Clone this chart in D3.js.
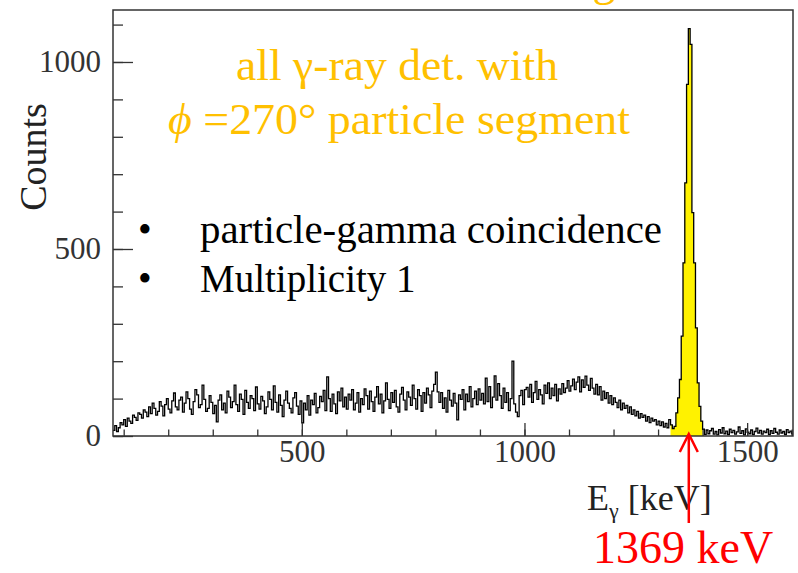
<!DOCTYPE html>
<html>
<head>
<meta charset="utf-8">
<script src="https://cdn.jsdelivr.net/npm/d3@7"></script>
<style>
  html, body { margin: 0; padding: 0; background: #fff; }
  svg { display: block; }
</style>
</head>
<body>
<script>
// ---- Spectrum data: 4 keV bins starting at 76 keV ----
const binStart = 76;
const binWidth = 4;

// Continuum below the line (76 - 1340 keV)
const continuumCounts = [
  15, 28, 12, 22, 36, 30, 44, 26, 48, 40, 34, 56, 50, 42, 62, 58,
  48, 70, 64, 52, 78, 60, 88, 74, 56, 66, 92, 80, 54, 84, 100, 72, 62, 94,
  115, 78, 70, 96, 104, 64, 88, 118, 100, 72, 58, 92, 124, 110, 76, 84, 136, 98, 66, 74, 108, 90, 60,
  82, 38, 96, 110, 70, 88, 62, 120, 104, 76, 92, 136, 84, 66, 112, 98, 58, 122, 90, 74, 108, 100, 68, 131, 86,
  72, 106, 94, 60, 78, 118, 98, 70, 134, 90, 64, 110, 82, 52, 96, 120, 88, 74, 62, 102, 116, 80, 58, 94, 35,
  88, 70, 108, 56, 96, 84, 114, 62, 76, 106, 92, 122, 68, 158, 100, 66, 112, 86, 60, 118, 94, 128, 78, 104, 72,
  112, 96, 124, 70, 88, 116, 64, 100, 84, 126, 108, 72, 120, 92, 66, 104, 132, 86, 112, 62, 94, 142, 98, 74, 116,
  90, 122, 78, 64, 112, 130, 96, 70, 118, 104, 82, 136, 100, 72, 124, 108, 66, 116, 88, 128, 110, 76, 120, 138, 171,
  118, 90, 116, 74, 102, 64, 122, 96, 80, 114, 88, 43, 110, 98, 124, 70, 112, 92, 132, 78, 100, 120, 84, 126, 96,
  114, 86, 155, 92, 132, 76, 104, 161, 96, 140, 108, 74, 128, 90, 116, 68, 100, 200, 86, 64, 52, 108, 122, 84, 124,
  130, 104, 138, 90, 116, 146, 98, 124, 110, 86, 136, 114, 142, 100, 128, 108, 138, 94, 126, 112,
  140, 116, 128, 148, 120, 134, 152, 124, 144, 158, 118, 150, 130, 160, 136, 122, 154, 128, 112, 138,
  110, 132, 96, 120, 100, 116, 88, 108, 84, 102, 90, 76, 96, 70, 88, 74, 82, 62, 78, 58,
  70, 54, 66, 48, 60, 50, 56, 40, 52, 36, 48, 40, 44, 30, 40, 28, 38, 24, 34, 22, 44, 30, 20, 26
];

// The 1369 keV line (1340 - 1404 keV)
const peakCounts = [62, 102, 151, 267, 463, 677, 940, 1089, 1047, 597, 463, 289, 142, 79, 40, 18];

// Above the line (1404 - 1604 keV)
const tailCounts = [
  4, 16, 6, 14, 20, 5, 12, 3, 17, 8, 22, 6, 13, 4, 18, 9, 15, 5, 11, 24, 7, 14, 3, 19, 10,
  6, 16, 4, 12, 21, 8, 15, 5, 13, 9, 18, 4, 14, 7, 20, 10, 5, 16, 8, 12, 4, 17, 9, 13, 6
];

const gateRange = [1328, 1400];   // yellow highlighted gate
const lineEnergy = 1369;          // annotated transition

const xDomain = [76, 1603];
const yDomain = [0, 1139];
const xMajorTicks = [500, 1000, 1500];
const xMinorTicks = d3.range(100, 1601, 100);
const yMajorTicks = [0, 500, 1000];
const yMinorTicks = d3.range(0, 1101, 100);

// ---- Build bins ----
const counts = continuumCounts.concat(peakCounts, tailCounts);
const bins = counts.map((c, i) => ({ e: binStart + i * binWidth, c }));
const lastEdge = binStart + counts.length * binWidth;

// ---- Layout ----
const W = 798, H = 573;
const frame = { left: 113, right: 793, top: 10, bottom: 436 };

const svg = d3.select("body").append("svg")
  .attr("width", W).attr("height", H)
  .style("font-family", "'Liberation Serif', 'Times New Roman', serif");

svg.append("rect").attr("width", W).attr("height", H).attr("fill", "#fff");

const x = d3.scaleLinear().domain(xDomain).range([frame.left, frame.right]);
const y = d3.scaleLinear().domain(yDomain).range([frame.bottom, frame.top]);

svg.append("clipPath").attr("id", "plot-clip")
  .append("rect")
  .attr("x", frame.left).attr("y", frame.top - 2)
  .attr("width", frame.right - frame.left)
  .attr("height", frame.bottom - frame.top + 2);

const plot = svg.append("g").attr("clip-path", "url(#plot-clip)");

// Gate fill
const gateBins = bins.filter(b => b.e >= gateRange[0] && b.e < gateRange[1]);
const gatePts = gateBins.concat([{ e: gateRange[1], c: gateBins[gateBins.length - 1].c }]);
plot.append("path")
  .datum(gatePts)
  .attr("fill", "#fff200")
  .attr("d", d3.area()
    .curve(d3.curveStepAfter)
    .x(d => x(d.e))
    .y0(y(0))
    .y1(d => y(d.c)));

// Histogram outline
const linePts = bins.concat([{ e: lastEdge, c: counts[counts.length - 1] }]);
plot.append("path")
  .datum(linePts)
  .attr("fill", "none")
  .attr("stroke", "#000")
  .attr("stroke-width", 1.3)
  .attr("d", d3.line()
    .curve(d3.curveStepAfter)
    .x(d => x(d.e))
    .y(d => y(d.c)));

// ---- Axes ----
const axisColor = "#333";
const tickFont = 31;

const xMinor = svg.append("g")
  .attr("transform", `translate(0,${frame.bottom})`)
  .call(d3.axisBottom(x).tickValues(xMinorTicks).tickSizeInner(-6.5).tickSizeOuter(0).tickFormat(""));
const xMajor = svg.append("g")
  .attr("transform", `translate(0,${frame.bottom})`)
  .call(d3.axisBottom(x).tickValues(xMajorTicks).tickSizeInner(-13).tickSizeOuter(0).tickPadding(4).tickFormat(d3.format("d")));

const yMinor = svg.append("g")
  .attr("transform", `translate(${frame.left},0)`)
  .call(d3.axisLeft(y).tickValues(yMinorTicks).tickSizeInner(-10).tickSizeOuter(0).tickFormat(""));
const yMajor = svg.append("g")
  .attr("transform", `translate(${frame.left},0)`)
  .call(d3.axisLeft(y).tickValues(yMajorTicks).tickSizeInner(-20).tickSizeOuter(0).tickPadding(12).tickFormat(d3.format("d")));

[xMinor, xMajor, yMinor, yMajor].forEach(g => {
  g.select(".domain").remove();
  g.selectAll(".tick line").attr("stroke", axisColor).attr("stroke-width", 1.3);
  g.selectAll("text")
    .attr("fill", axisColor)
    .style("font-family", "'Liberation Serif', 'Times New Roman', serif")
    .style("font-size", tickFont + "px");
});

// Frame
svg.append("rect")
  .attr("x", frame.left).attr("y", frame.top)
  .attr("width", frame.right - frame.left)
  .attr("height", frame.bottom - frame.top)
  .attr("fill", "none")
  .attr("stroke", axisColor)
  .attr("stroke-width", 1.5);

// Axis titles
svg.append("text")
  .attr("transform", "translate(46,157) rotate(-90)")
  .attr("text-anchor", "middle")
  .attr("fill", "#222")
  .style("font-size", "38px")
  .text("Counts");

const xt = svg.append("text")
  .attr("x", 587).attr("y", 510)
  .attr("fill", "#222")
  .style("font-size", "36px");
xt.append("tspan").text("E");
xt.append("tspan").attr("dy", 8).style("font-size", "22px").text("γ");
xt.append("tspan").attr("dy", -8).text(" [keV]");

// ---- Annotations ----
const gold = "#ffc000";

// descender of the heading line above the plot
svg.append("text")
  .attr("x", 604).attr("y", -5)
  .attr("text-anchor", "middle")
  .attr("fill", gold)
  .style("font-size", "46px")
  .text("g");

svg.append("text")
  .attr("x", 236).attr("y", 80)
  .attr("fill", gold)
  .attr("textLength", 322)
  .attr("lengthAdjust", "spacingAndGlyphs")
  .style("font-size", "44px")
  .text("all γ-ray det. with");

const l2 = svg.append("text")
  .attr("x", 168).attr("y", 134)
  .attr("fill", gold)
  .attr("textLength", 462)
  .attr("lengthAdjust", "spacingAndGlyphs")
  .style("font-size", "44px");
l2.append("tspan").style("font-style", "italic").text("ϕ");
l2.append("tspan").text(" =270° particle segment");

const bullets = ["particle-gamma coincidence", "Multiplicity 1"];
bullets.forEach((t, i) => {
  const by = 243 + i * 49;
  svg.append("text").attr("x", 138).attr("y", by).attr("fill", "#000")
    .style("font-size", "39px").text("•");
  const tx = svg.append("text").attr("x", 200).attr("y", by).attr("fill", "#000")
    .style("font-size", "39px").text(t);
  if (i === 0) tx.attr("textLength", 462).attr("lengthAdjust", "spacingAndGlyphs");
});

// Arrow marking the transition energy
const red = "#ff0000";
const ax = x(lineEnergy);
const arrow = svg.append("g").attr("stroke", red).attr("stroke-width", 2.5).attr("fill", "none");
arrow.append("line").attr("x1", ax).attr("x2", ax).attr("y1", frame.bottom - 2).attr("y2", 523);
arrow.append("polyline")
  .attr("points", `${ax - 9},${frame.bottom + 16} ${ax},${frame.bottom - 2} ${ax + 9},${frame.bottom + 16}`);

svg.append("text")
  .attr("x", 593).attr("y", 563)
  .attr("fill", red)
  .style("font-size", "46px")
  .text(lineEnergy + " keV");
</script>
</body>
</html>
